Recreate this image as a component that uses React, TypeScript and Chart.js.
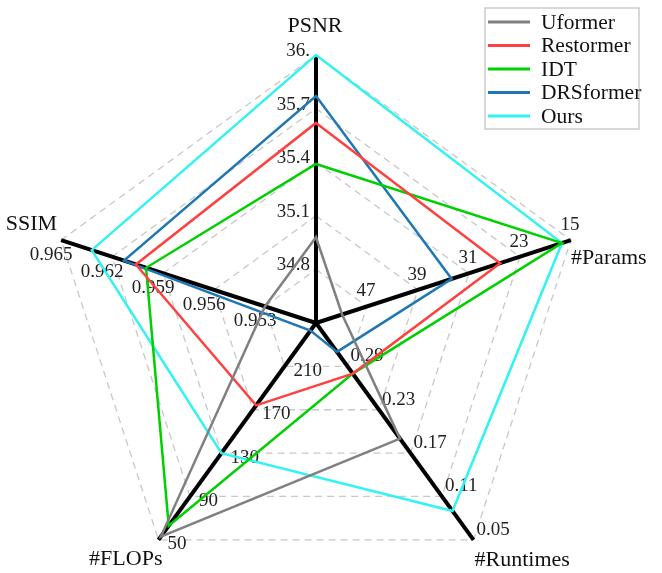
import React, { useEffect, useRef } from 'react';
import { Chart, registerables } from 'chart.js';

Chart.register(...registerables);

// Axes, clockwise from the top
const axisLabels = ['PSNR', '#Params', '#Runtimes', '#FLOPs', 'SSIM'];
// Value at the centre and at the outer ring of each axis
const axisInner = [34.5, 55, 0.35, 250, 0.95];
const axisOuter = [36, 15, 0.05, 50, 0.965];
const ringCount = 5;

// Ring labels for each axis, from the innermost ring outward
const psnrTicks = ['34.8', '35.1', '35.4', '35.7', '36.'];
const paramsTicks = ['47', '39', '31', '23', '15'];
const runtimeTicks = ['0.29', '0.23', '0.17', '0.11', '0.05'];
const flopsTicks = ['210', '170', '130', '90', '50'];
const ssimTicks = ['0.953', '0.956', '0.959', '0.962', '0.965'];

const methods = ['Uformer', 'Restormer', 'IDT', 'DRSformer', 'Ours'];
const methodColors = ['#808080', '#ff4040', '#00d000', '#1f77b4', '#33f2f2'];

// [PSNR, Params (M), Runtime (s), FLOPs (G), SSIM]
const uformer = [34.98, 50.9, 0.19, 53, 0.953];
const restormer = [35.62, 26.1, 0.28, 174, 0.9606];
const idt = [35.39, 16.4, 0.28, 63, 0.96];
const drsformer = [35.77, 33.7, 0.31, 243, 0.9613];
const ours = [36.0, 16.4, 0.09, 130, 0.9632];

const seriesValues = [uformer, restormer, idt, drsformer, ours];

const FONT = '"Liberation Serif", "DejaVu Serif", serif';

// Map a raw value on axis i to ring units (0 = centre, ringCount = outer ring)
const toRing = (v: number, i: number) =>
  ((v - axisInner[i]) / (axisOuter[i] - axisInner[i])) * ringCount;

type LabelStyle = { dx: number; dy: number; align: CanvasTextAlign };

const tickStyles: LabelStyle[] = [
  { dx: -6, dy: -4, align: 'right' },
  { dx: -1, dy: -15, align: 'center' },
  { dx: 3, dy: -10, align: 'left' },
  { dx: 9, dy: 4.5, align: 'left' },
  { dx: -10, dy: 15, align: 'center' },
];

const pointLabelStyles: LabelStyle[] = [
  { dx: -1, dy: -29, align: 'center' },
  { dx: 0, dy: 18, align: 'left' },
  { dx: 1, dy: 20, align: 'left' },
  { dx: 4, dy: 19, align: 'right' },
  { dx: -4, dy: -16, align: 'right' },
];

const axisTicks = [psnrTicks, paramsTicks, runtimeTicks, flopsTicks, ssimTicks];

const radarDecor = {
  id: 'radarDecor',
  beforeDatasetsDraw(chart: any) {
    const { ctx } = chart;
    const scale = chart.scales.r;
    ctx.save();
    ctx.font = `19px ${FONT}`;
    ctx.fillStyle = '#222';
    ctx.textBaseline = 'middle';
    axisTicks.forEach((ticks, i) => {
      const st = tickStyles[i];
      ctx.textAlign = st.align;
      ticks.forEach((t, k) => {
        const p = scale.getPointPositionForValue(i, k + 1);
        ctx.fillText(t, p.x + st.dx, p.y + st.dy);
      });
    });
    ctx.restore();
  },
  afterDraw(chart: any) {
    const { ctx } = chart;
    const scale = chart.scales.r;
    ctx.save();
    // axis names
    ctx.font = `22px ${FONT}`;
    ctx.fillStyle = '#111';
    ctx.textBaseline = 'middle';
    axisLabels.forEach((name, i) => {
      const st = pointLabelStyles[i];
      const p = scale.getPointPositionForValue(i, ringCount);
      ctx.textAlign = st.align;
      ctx.fillText(name, p.x + st.dx, p.y + st.dy);
    });

    // legend box
    const bx = 485, by = 8, bw = 154, bh = 121;
    ctx.fillStyle = 'rgba(255,255,255,0.85)';
    ctx.fillRect(bx, by, bw, bh);
    ctx.strokeStyle = '#cccccc';
    ctx.lineWidth = 1.5;
    ctx.strokeRect(bx, by, bw, bh);
    ctx.font = `21.5px ${FONT}`;
    ctx.textAlign = 'left';
    chart.data.datasets.forEach((ds: any, i: number) => {
      const y = 22 + i * 23.5;
      ctx.strokeStyle = ds.borderColor;
      ctx.lineWidth = 3;
      ctx.beginPath();
      ctx.moveTo(488, y);
      ctx.lineTo(530, y);
      ctx.stroke();
      ctx.fillStyle = '#111';
      ctx.fillText(ds.label, 541, y + 1);
    });
    ctx.restore();
  },
};

export default function App() {
  const canvasRef = useRef<HTMLCanvasElement | null>(null);

  useEffect(() => {
    if (!canvasRef.current) return;
    const chart = new Chart(canvasRef.current, {
      type: 'radar',
      data: {
        labels: axisLabels,
        datasets: methods.map((m, j) => ({
          label: m,
          data: seriesValues[j].map((v, i) => toRing(v, i)),
          borderColor: methodColors[j],
          backgroundColor: 'transparent',
          borderWidth: 2.5,
          pointRadius: 0,
          pointHoverRadius: 0,
          fill: false,
          tension: 0,
        })),
      },
      options: {
        responsive: false,
        animation: false,
        devicePixelRatio: 1,
        layout: { padding: { left: 48, right: 78, top: 0, bottom: 0 } },
        plugins: {
          legend: { display: false },
          tooltip: { enabled: false },
        },
        scales: {
          r: {
            min: 0,
            max: ringCount,
            ticks: { display: false, stepSize: 1 },
            pointLabels: { display: false },
            grid: { color: '#c8c8c8', lineWidth: 1.3 },
            border: { dash: [7, 5] },
            angleLines: { color: '#000000', lineWidth: 4 },
          },
        },
      },
      plugins: [radarDecor],
    });
    return () => chart.destroy();
  }, []);

  return (
    <div
      style={{
        position: 'fixed',
        left: 0,
        top: 0,
        width: 662,
        height: 573,
        overflow: 'hidden',
        background: '#ffffff',
      }}
    >
      <canvas ref={canvasRef} width={662} height={646} style={{ width: 662, height: 646, display: 'block' }} />
    </div>
  );
}
